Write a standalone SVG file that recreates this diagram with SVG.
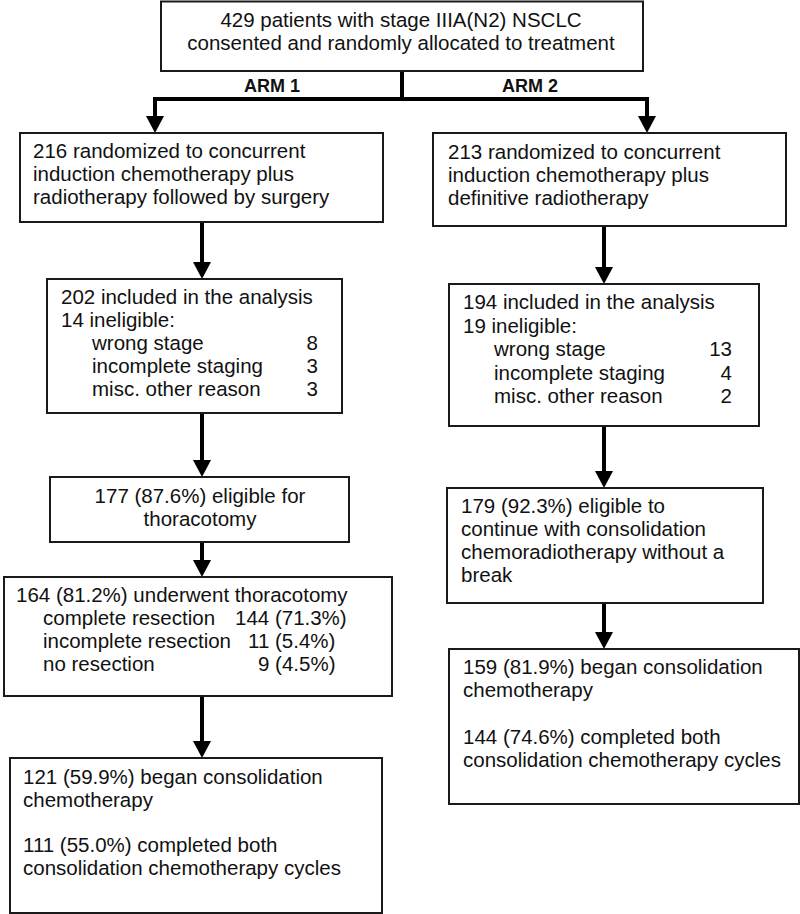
<svg xmlns="http://www.w3.org/2000/svg" width="800" height="914" viewBox="0 0 800 914">
<defs>
<style>
.box{fill:#fff;stroke:#1a1a1a;stroke-width:2}
.t{font-family:"Liberation Sans",Arial,sans-serif;font-size:20.5px;fill:#111}
.c{text-anchor:middle}
.r{text-anchor:end}
.arm{font-family:"Liberation Sans",Arial,sans-serif;font-size:18px;font-weight:bold;fill:#111;text-anchor:middle}
.ln{fill:none;stroke:#000;stroke-width:4;stroke-linejoin:miter}
</style>
<marker id="ah" markerUnits="userSpaceOnUse" markerWidth="18" markerHeight="18" refX="0" refY="9" orient="auto" viewBox="0 0 17 18">
<path d="M0,0 L17,9 L0,18 Z" fill="#000"/>
</marker>
</defs>
<rect width="800" height="914" fill="#fff"/>
<g id="connectors">
<path class="ln" d="M402,71 V99"/>
<path class="ln" d="M404,99 H155 V116" marker-end="url(#ah)"/>
<path class="ln" d="M400,99 H647 V116" marker-end="url(#ah)"/>
<path class="ln" d="M202,222 V262" marker-end="url(#ah)"/>
<path class="ln" d="M202,413 V460" marker-end="url(#ah)"/>
<path class="ln" d="M202,542 V560" marker-end="url(#ah)"/>
<path class="ln" d="M202,696 V741" marker-end="url(#ah)"/>
<path class="ln" d="M604,226 V267" marker-end="url(#ah)"/>
<path class="ln" d="M604,426 V471" marker-end="url(#ah)"/>
<path class="ln" d="M604,603 V632" marker-end="url(#ah)"/>
<text class="arm" x="272" y="92">ARM 1</text>
<text class="arm" x="530" y="92">ARM 2</text>
</g>
<g id="top">
<rect class="box" x="161" y="1.5" width="482" height="69.5"/>
<text class="t c" x="401" y="27">429 patients with stage IIIA(N2) NSCLC</text>
<text class="t c" x="401" y="50">consented and randomly allocated to treatment</text>
</g>
<g id="arm1-randomized">
<rect class="box" x="20" y="133" width="363" height="89"/>
<text class="t" x="33" y="158">216 randomized to concurrent</text>
<text class="t" x="33" y="181">induction chemotherapy plus</text>
<text class="t" x="33" y="204">radiotherapy followed by surgery</text>
</g>
<g id="arm1-analysis">
<rect class="box" x="47" y="279" width="295" height="134"/>
<text class="t" x="61" y="304">202 included in the analysis</text>
<text class="t" x="61" y="327">14 ineligible:</text>
<text class="t" x="92" y="350">wrong stage</text>
<text class="t r" x="318" y="350">8</text>
<text class="t" x="92" y="373">incomplete staging</text>
<text class="t r" x="318" y="373">3</text>
<text class="t" x="92" y="396">misc. other reason</text>
<text class="t r" x="318" y="396">3</text>
</g>
<g id="arm1-eligible">
<rect class="box" x="50" y="477" width="299" height="65"/>
<text class="t c" x="200" y="503">177 (87.6%) eligible for</text>
<text class="t c" x="200" y="526">thoracotomy</text>
</g>
<g id="arm1-thoracotomy">
<rect class="box" x="4" y="577" width="388" height="119"/>
<text class="t" x="16" y="602">164 (81.2%) underwent thoracotomy</text>
<text class="t" x="43" y="625">complete resection</text>
<text class="t" x="235" y="625">144 (71.3%)</text>
<text class="t" x="43" y="648">incomplete resection</text>
<text class="t" x="248" y="648">11 (5.4%)</text>
<text class="t" x="43" y="671">no resection</text>
<text class="t" x="258" y="671">9 (4.5%)</text>
</g>
<g id="arm1-consolidation">
<rect class="box" x="10" y="758" width="372" height="155"/>
<text class="t" x="23" y="784">121 (59.9%) began consolidation</text>
<text class="t" x="23" y="807">chemotherapy</text>
<text class="t" x="23" y="852">111 (55.0%) completed both</text>
<text class="t" x="23" y="875">consolidation chemotherapy cycles</text>
</g>
<g id="arm2-randomized">
<rect class="box" x="433" y="133" width="353" height="93"/>
<text class="t" x="448" y="159">213 randomized to concurrent</text>
<text class="t" x="448" y="182">induction chemotherapy plus</text>
<text class="t" x="448" y="205">definitive radiotherapy</text>
</g>
<g id="arm2-analysis">
<rect class="box" x="449" y="284" width="310" height="142"/>
<text class="t" x="463" y="309">194 included in the analysis</text>
<text class="t" x="463" y="332.5">19 ineligible:</text>
<text class="t" x="494" y="356">wrong stage</text>
<text class="t r" x="732" y="356">13</text>
<text class="t" x="494" y="379.5">incomplete staging</text>
<text class="t r" x="732" y="379.5">4</text>
<text class="t" x="494" y="403">misc. other reason</text>
<text class="t r" x="732" y="403">2</text>
</g>
<g id="arm2-eligible">
<rect class="box" x="447" y="488" width="316" height="115"/>
<text class="t" x="461" y="513">179 (92.3%) eligible to</text>
<text class="t" x="461" y="536">continue with consolidation</text>
<text class="t" x="461" y="559">chemoradiotherapy without a</text>
<text class="t" x="461" y="582">break</text>
</g>
<g id="arm2-consolidation">
<rect class="box" x="449" y="649" width="350" height="155"/>
<text class="t" x="463" y="674">159 (81.9%) began consolidation</text>
<text class="t" x="463" y="697">chemotherapy</text>
<text class="t" x="463" y="744">144 (74.6%) completed both</text>
<text class="t" x="463" y="767">consolidation chemotherapy cycles</text>
</g>
</svg>
